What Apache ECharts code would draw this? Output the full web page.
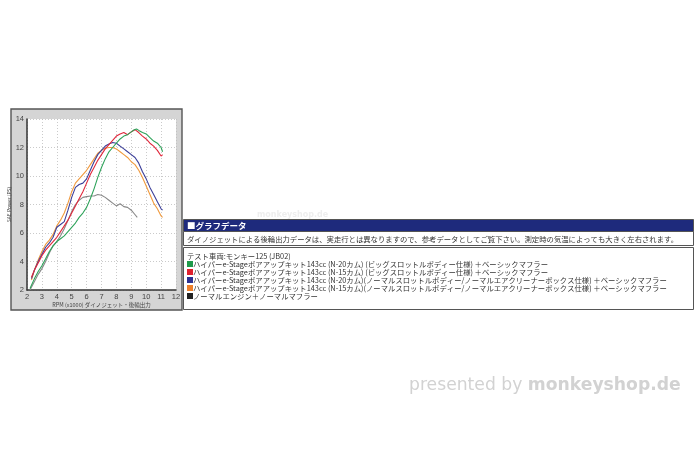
<!DOCTYPE html>
<html><head><meta charset="utf-8">
<script src="https://cdn.jsdelivr.net/npm/echarts@6/dist/echarts.min.js"></script>
<style>html,body{margin:0;padding:0;background:#fff;}#c{width:700px;height:467px;}</style>
</head><body><div id="c"></div>
<script>
// ---- data ----
var greenRpm = [2.2,2.5,2.75,3.0,3.25,3.5,3.75,4.0,4.25,4.5,4.75,5.0,5.25,5.5,5.75,6.0,6.25,6.5,6.75,7.0,7.25,7.5,7.75,8.0,8.25,8.5,8.75,9.0,9.2,9.35,9.5,9.75,10.0,10.25,10.5,10.75,11.0,11.1];
var greenPs  = [2.1,2.8,3.3,3.7,4.2,4.7,5.1,5.4,5.6,5.8,6.1,6.4,6.7,7.1,7.4,7.8,8.4,9.1,9.9,10.6,11.2,11.7,12.0,12.3,12.6,12.8,12.9,13.1,13.25,13.3,13.2,13.05,12.95,12.7,12.45,12.3,12.0,11.7];
var redRpm = [2.3,2.5,2.75,3.0,3.25,3.5,3.75,4.0,4.25,4.5,4.75,5.0,5.25,5.5,5.75,6.0,6.25,6.5,6.75,7.0,7.25,7.5,7.75,8.0,8.25,8.5,8.75,9.0,9.25,9.5,9.75,10.0,10.25,10.5,10.75,11.0,11.1];
var redPs  = [2.9,3.4,3.9,4.4,4.8,5.1,5.4,5.7,6.1,6.5,6.9,7.4,7.9,8.4,8.9,9.5,10.1,10.6,11.1,11.5,11.9,12.2,12.5,12.8,12.95,13.05,12.9,13.1,13.25,13.05,12.8,12.6,12.3,12.1,11.8,11.4,11.5];
var blueRpm = [2.3,2.5,2.75,3.0,3.25,3.5,3.75,4.0,4.25,4.5,4.75,5.0,5.25,5.5,5.75,6.0,6.25,6.5,6.75,7.0,7.25,7.5,7.75,8.0,8.25,8.5,8.75,9.0,9.25,9.5,9.75,10.0,10.25,10.5,10.75,11.0,11.1];
var bluePs  = [2.8,3.4,4.0,4.5,5.0,5.3,5.7,6.4,6.6,6.8,7.6,8.5,9.2,9.4,9.5,9.8,10.4,11.0,11.5,11.8,12.1,12.25,12.35,12.3,12.1,11.9,11.7,11.5,11.3,10.9,10.3,9.8,9.2,8.7,8.2,7.7,7.6];
var orangeRpm = [2.3,2.5,2.75,3.0,3.25,3.5,3.75,4.0,4.25,4.5,4.75,5.0,5.25,5.5,5.75,6.0,6.25,6.5,6.75,7.0,7.25,7.5,7.75,8.0,8.25,8.5,8.75,9.0,9.25,9.5,9.75,10.0,10.25,10.5,10.75,11.0,11.1];
var orangePs  = [2.7,3.4,4.1,4.7,5.2,5.5,5.9,6.5,6.9,7.4,8.1,8.9,9.5,9.8,10.1,10.4,10.8,11.2,11.6,11.8,11.95,12.0,12.0,11.9,11.7,11.5,11.3,11.0,10.8,10.4,9.9,9.3,8.7,8.1,7.7,7.2,7.1];
var grayRpm = [2.2,2.5,2.75,3.0,3.25,3.5,3.75,4.0,4.25,4.5,4.75,5.0,5.25,5.5,5.75,6.0,6.25,6.5,6.75,7.0,7.25,7.5,7.75,8.0,8.25,8.5,8.75,9.0,9.2,9.4];
var grayPs  = [2.0,2.6,3.1,3.5,4.0,4.6,5.1,5.4,5.8,6.3,6.9,7.5,8.0,8.3,8.5,8.55,8.6,8.6,8.7,8.65,8.5,8.3,8.1,7.9,8.05,7.85,7.8,7.6,7.35,7.1];

var seriesNames = [
  'ハイパーe-Stageボアアップキット143cc (N-20カム) (ビッグスロットルボディー仕様) ＋ベーシックマフラー',
  'ハイパーe-Stageボアアップキット143cc (N-15カム) (ビッグスロットルボディー仕様) ＋ベーシックマフラー',
  'ハイパーe-Stageボアアップキット143cc (N-20カム)(ノーマルスロットルボディー/ノーマルエアクリーナーボックス仕様) ＋ベーシックマフラー',
  'ハイパーe-Stageボアアップキット143cc (N-15カム)(ノーマルスロットルボディー/ノーマルエアクリーナーボックス仕様) ＋ベーシックマフラー',
  'ノーマルエンジン＋ノーマルマフラー'
];
var seriesColors = ['#2ea35a','#e0283c','#3c3f99','#f09a3e','#888888'];
var legendSquareColors = ['#1f9a4a','#e0202e','#2b3192','#ee7f2a','#222222'];
var xTicks = {min:2, max:12, interval:1};
var yTicks = {min:2, max:14, interval:2};
var title = 'SAE Power (PS)';
var xTitle = 'RPM (x1000) ダイノジェット・後輪出力';
var tableHeader = '■グラフデータ';
var tableNote = 'ダイノジェットによる後輪出力データは、実走行とは異なりますので、参考データとしてご覧下さい。測定時の気温によっても大きく左右されます。';
var testVehicle = 'テスト車両:モンキー125 (JB02)';

function zip(a,b){return a.map(function(v,i){return [v,b[i]];});}
var allData = [zip(greenRpm,greenPs), zip(redRpm,redPs), zip(blueRpm,bluePs), zip(orangeRpm,orangePs), zip(grayRpm,grayPs)];

var JP = '"Noto Sans CJK JP", "Noto Sans", sans-serif';
var chart = echarts.init(document.getElementById('c'), null, {renderer:'canvas'});

var graphics = [
  {type:'rect', z:-10, shape:{x:11, y:109, width:171, height:201}, style:{fill:'#d5d5d5', stroke:'#555', lineWidth:1.4}},
  {type:'text', z:-5, x:257, y:211, style:{text:'monkeyshop.de', fill:'#eeeeee', font:'bold 8px "DejaVu Sans"'}},
  {type:'rect', shape:{x:183.5, y:219.5, width:510, height:12}, style:{fill:'#1e2a7c', stroke:'#555', lineWidth:1}},
  {type:'text', x:187, y:225.5, style:{text:tableHeader, fill:'#fff', font:'bold 8.5px '+JP, verticalAlign:'middle'}},
  {type:'rect', shape:{x:183.5, y:231.5, width:510, height:14}, style:{fill:'#fff', stroke:'#555', lineWidth:1}},
  {type:'text', x:187, y:239, style:{text:tableNote, fill:'#333', font:'7.35px '+JP, verticalAlign:'middle'}},
  {type:'rect', shape:{x:183.5, y:247.5, width:510, height:62}, style:{fill:'#fff', stroke:'#555', lineWidth:1}},
  {type:'text', x:187, y:256, style:{text:testVehicle, fill:'#333', font:'7.35px '+JP, verticalAlign:'middle'}},
  {type:'text', x:409, y:386, style:{text:'{a|presented by }{b|monkeyshop.de}', rich:{
      a:{fill:'#d2d2d2', font:'17.2px "DejaVu Sans"', verticalAlign:'middle'},
      b:{fill:'#d2d2d2', font:'bold 17.2px "DejaVu Sans"', verticalAlign:'middle'}}, verticalAlign:'middle'}}
];
seriesNames.forEach(function(n,i){
  var y = 264 + i*8;
  graphics.push({type:'rect', shape:{x:187, y:y-3, width:6, height:6}, style:{fill:legendSquareColors[i]}});
  graphics.push({type:'text', x:193, y:y, style:{text:n, fill:'#333', font:'7.35px '+JP, verticalAlign:'middle'}});
});

chart.setOption({
  animation:false,
  backgroundColor:'#fff',
  grid:{left:27, top:119, width:149, height:171, show:true, backgroundColor:'#fff', borderWidth:0},
  xAxis:{type:'value', min:xTicks.min, max:xTicks.max, interval:xTicks.interval,
    name:xTitle, nameLocation:'middle', nameGap:11, nameTextStyle:{fontSize:5.5, color:'#444', fontFamily:JP},
    axisLine:{show:true, lineStyle:{color:'#333', width:1.5}}, axisTick:{show:false},
    axisLabel:{fontSize:7.5, color:'#444', margin:3, fontFamily:'"Liberation Sans"'},
    splitLine:{show:true, lineStyle:{color:'#bdbdbd', type:[1,2], width:0.8}}},
  yAxis:{type:'value', min:yTicks.min, max:yTicks.max, interval:yTicks.interval,
    name:title, nameLocation:'middle', nameGap:10, nameRotate:90, nameTextStyle:{fontSize:5, color:'#444', fontFamily:JP},
    axisLine:{show:true, lineStyle:{color:'#333', width:1.5}}, axisTick:{show:false},
    axisLabel:{fontSize:7.5, color:'#444', margin:3, fontFamily:'"Liberation Sans"'},
    splitLine:{show:true, lineStyle:{color:'#bdbdbd', type:[1,2], width:0.8}}},
  graphic:{elements:graphics},
  series: allData.map(function(d,i){
    return {type:'line', name:seriesNames[i], data:d, showSymbol:false, symbol:'none',
      lineStyle:{color:seriesColors[i], width:1.1}, z:10-i};
  })
});
</script></body></html>
